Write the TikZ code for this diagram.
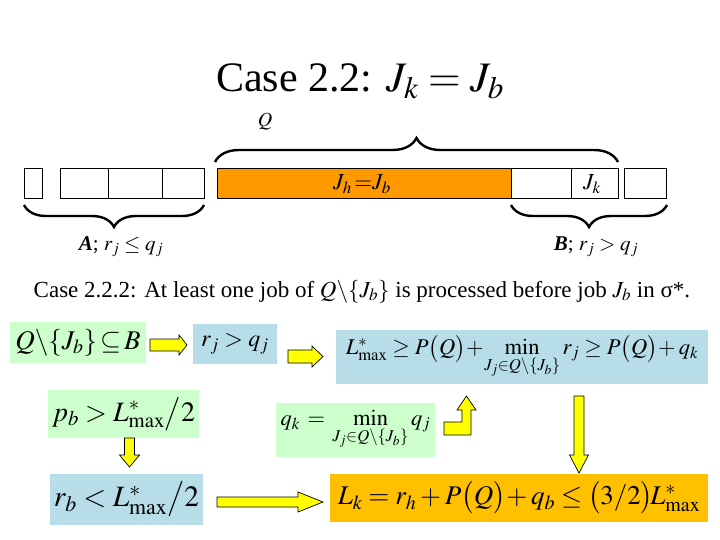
\documentclass[tikz,border=0pt]{standalone}
\usepackage{amsmath}
\usepackage{mathptmx}
\usepackage[no-math]{fontspec}
\setmainfont{Liberation Serif}
\usetikzlibrary{decorations.pathreplacing}
\definecolor{boxgreen}{HTML}{CCFFCC}
\definecolor{boxblue}{HTML}{B7DDE8}
\definecolor{boxgold}{HTML}{FFC000}
\definecolor{barorange}{HTML}{FF9900}
\definecolor{arrowyellow}{HTML}{FFFF00}
\tikzset{
  cell/.style={draw=black, line width=0.8pt, inner sep=0pt, anchor=north west},
  greenbox/.style={fill=boxgreen, inner sep=0pt},
  bluebox/.style={fill=boxblue, inner sep=0pt},
  goldbox/.style={fill=boxgold, inner sep=0pt},
  blockarrow/.style={fill=arrowyellow, draw=black, line width=0.7pt, line join=miter},
  bracepath/.style={line width=2.4pt, decorate},
}
% right block arrow: start (left end, centre line), length, shaft half, head half, head length
\newcommand\rightblock[5]{\path[blockarrow] #1 ++(0,-#3) -- ++(#2-#5,0) -- ++(0,#3-#4) -- ++(#5,#4) -- ++(-#5,#4) -- ++(0,#3-#4) -- ++(-#2+#5,0) -- cycle;}
% down block arrow: start (top end, centre line), length, shaft half, head half, head length
\newcommand\downblock[5]{\path[blockarrow] #1 ++(-#3,0) -- ++(0,#2-#5) -- ++(#3-#4,0) -- ++(#4,#5) -- ++(#4,-#5) -- ++(#3-#4,0) -- ++(0,-#2+#5) -- cycle;}
\begin{document}
\begin{tikzpicture}[x=1pt,y=-1pt]
\useasboundingbox (0,0) rectangle (720,540);

% title
\node[anchor=base, inner sep=0pt, font=\fontsize{42}{48}\selectfont] (title) at (360,92) {Case 2.2: $J_k = J_b$};

% sequence of jobs
\node[cell, minimum width=18pt, minimum height=30pt] (c1) at (24,168) {};
\node[cell, minimum width=48pt, minimum height=30pt] (c2) at (60,168) {};
\node[cell, minimum width=54pt, minimum height=30pt] (c3) at (108,168) {};
\node[cell, minimum width=42pt, minimum height=30pt] (c4) at (162,168) {};
\node[cell, fill=barorange, minimum width=294pt, minimum height=30pt] (jb) at (217,168) {};
\node[cell, minimum width=60pt, minimum height=30pt] (c5) at (511,168) {};
\node[cell, minimum width=47pt, minimum height=30pt] (jk) at (571,168) {};
\node[cell, minimum width=42pt, minimum height=30pt] (c6) at (624,168) {};
\node[font=\fontsize{23}{26}\selectfont, inner sep=0pt] (jbtext) at (362,184) {$J_h\,{=}J_b$};
\node[font=\fontsize{23}{26}\selectfont, inner sep=0pt] (jktext) at (592,184) {$J_k$};

% braces
\draw[bracepath, decoration={brace, amplitude=24pt}] (215,162) -- (618,162);
\node[font=\fontsize{20}{24}\selectfont, inner sep=0pt] (qlabel) at (265,122) {$Q$};
\draw[bracepath, decoration={brace, amplitude=22pt}] (204,205) -- (24,205);
\draw[bracepath, decoration={brace, amplitude=22pt}] (667,205) -- (511,205);
\node[anchor=base, font=\fontsize{21}{24}\selectfont, inner sep=0pt] (alabel) at (121,250) {\textbf{\textit{A}}; $r_j\le q_j$};
\node[anchor=base, font=\fontsize{21}{24}\selectfont, inner sep=0pt] (blabel) at (596,250) {\textbf{\textit{B}}; $r_j > q_j$};

% case line
\node[anchor=base, font=\fontsize{23}{26}\selectfont, inner sep=0pt] (caseline) at (362,297) {Case 2.2.2: At least one job of $Q\backslash\{J_b\}$ is processed before job $J_b$ in σ*.};

% formula boxes
\node[greenbox, minimum width=136pt, minimum height=41pt, font=\fontsize{27}{30}\selectfont] (g1) at (78,342.5) {$Q\backslash\{J_b\}\!\subseteq\! B$};
\node[bluebox, minimum width=84pt, minimum height=40pt, font=\fontsize{24}{28}\selectfont] (b1) at (235,344) {$r_j > q_j$};
\node[bluebox, minimum width=372pt, minimum height=54pt, font=\fontsize{22.5}{26}\selectfont] (b2) at (522,357) {$L^*_{\max} \ge P\bigl(Q\bigr)\!+\!\min\limits_{J_j\in Q\backslash\{J_b\}} r_j \ge P\bigl(Q\bigr)\!+q_k$};
\node[greenbox, minimum width=151pt, minimum height=48pt, font=\fontsize{28}{32}\selectfont] (g2) at (123.5,414) {$p_b > L^*_{\max}\big/2$};
\node[greenbox, minimum width=159pt, minimum height=54pt, font=\fontsize{22.5}{26}\selectfont] (g3) at (355.5,430) {$q_k\, =\, \min\limits_{J_j\in Q\backslash\{J_b\}} q_j$};
\node[bluebox, minimum width=153pt, minimum height=51pt, font=\fontsize{29.5}{34}\selectfont] (b3) at (126.5,499.5) {$r_b < L^*_{\max}\big/2$};
\node[goldbox, minimum width=378pt, minimum height=48pt, font=\fontsize{27}{31}\selectfont] (o1) at (519,498) {$L_k = r_h + P\bigl(Q\bigr)\!+ q_b \le \bigl(3/2\bigr)\!L^*_{\max}$};

% block arrows
\rightblock{(150,345)}{37}{6}{10}{8}
\rightblock{(288,356.5)}{35}{6.5}{10.5}{11}
\rightblock{(217,502)}{106}{5}{10}{25}
\downblock{(129.5,438)}{29}{5}{10}{12}
\downblock{(579,396)}{77}{5}{9.5}{18}
\path[blockarrow] (444,422) -- (462,422) -- (462,410) -- (457,410) -- (466.5,396) -- (476,410) -- (471,410) -- (471,435) -- (444,435) -- cycle;
\end{tikzpicture}
\end{document}
